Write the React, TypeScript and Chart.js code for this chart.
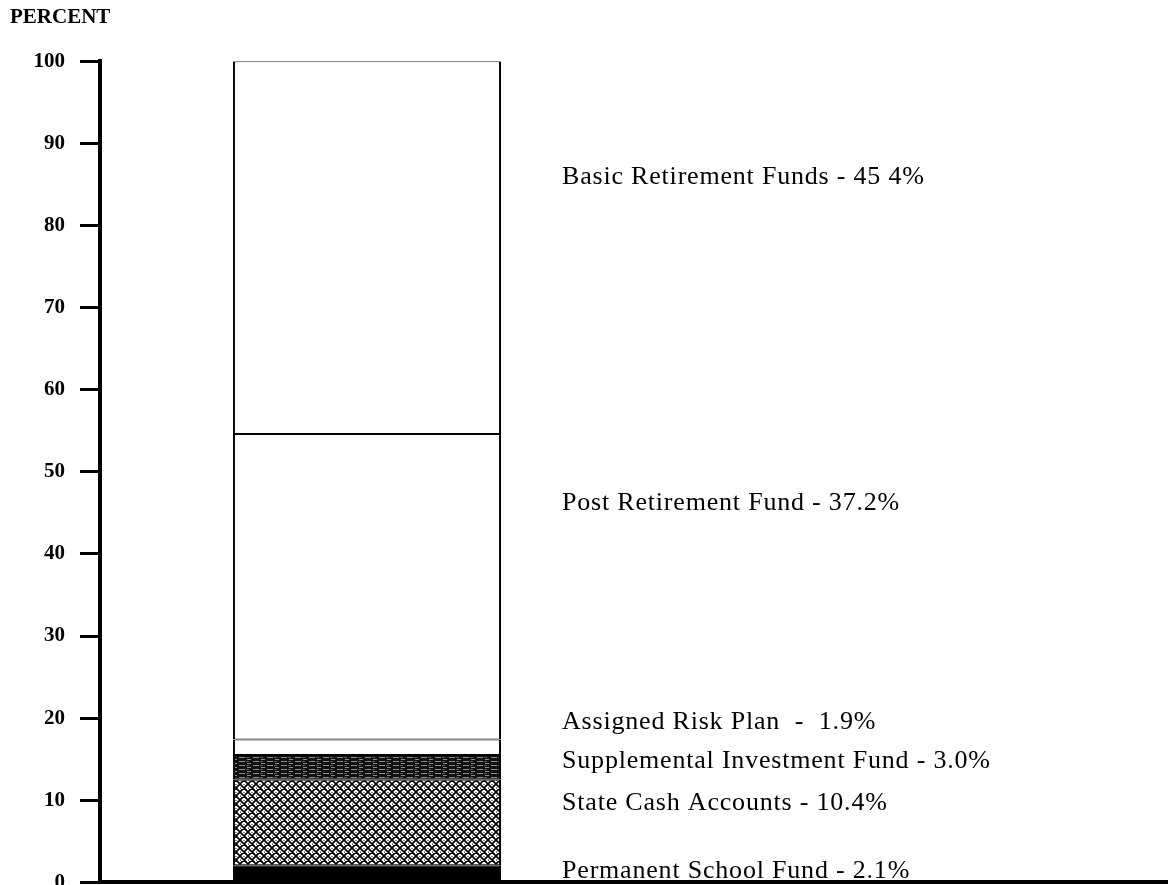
import React, { useEffect, useRef } from "react";
import { Chart, registerables } from "chart.js";

Chart.register(...registerables);

// Data
const categories = ["", ""];
const seriesNames = [
  "Permanent School Fund",
  "State Cash Accounts",
  "Supplemental Investment Fund",
  "Assigned Risk Plan",
  "Post Retirement Fund",
  "Basic Retirement Funds",
];
const seriesValues = [2.1, 10.4, 3.0, 1.9, 37.2, 45.4];
const seriesLabels = [
  "Permanent School Fund - 2.1%",
  "State Cash Accounts - 10.4%",
  "Supplemental Investment Fund - 3.0%",
  "Assigned Risk Plan  -  1.9%",
  "Post Retirement Fund - 37.2%",
  "Basic Retirement Funds - 45 4%",
];
const yTicks = [0, 10, 20, 30, 40, 50, 60, 70, 80, 90, 100];
const axisTitle = "PERCENT";

// Layout of the annotation texts (y in data units)
const labelAnchorY = [1.4, 9.7, 14.8, 19.5, 46.2, 85.9];

function makeCrossHatch(): CanvasPattern | string {
  const c = document.createElement("canvas");
  c.width = 8;
  c.height = 8;
  const g = c.getContext("2d");
  if (!g) return "#888";
  g.fillStyle = "#fff";
  g.fillRect(0, 0, 8, 8);
  g.strokeStyle = "#000";
  g.lineWidth = 1.7;
  g.beginPath();
  for (const o of [-8, 0, 8]) {
    g.moveTo(o, 0);
    g.lineTo(o + 8, 8);
    g.moveTo(o + 8, 0);
    g.lineTo(o, 8);
  }
  g.stroke();
  g.fillStyle = "#000";
  g.fillRect(3.5, 0, 1, 1);
  g.fillRect(0, 3.5, 1, 1);
  const p = g.createPattern(c, "repeat");
  return p || "#888";
}

function makeStreaks(): CanvasPattern | string {
  const c = document.createElement("canvas");
  c.width = 14;
  c.height = 4;
  const g = c.getContext("2d");
  if (!g) return "#222";
  g.fillStyle = "#121212";
  g.fillRect(0, 0, 14, 4);
  g.fillStyle = "#8a8a8a";
  g.fillRect(1, 1, 6, 1);
  g.fillRect(9, 3, 4, 1);
  g.fillStyle = "#555";
  g.fillRect(8, 1, 3, 1);
  const p = g.createPattern(c, "repeat");
  return p || "#222";
}

const labelPlugin = {
  id: "segmentLabels",
  afterDraw(chart: any) {
    const ctx = chart.ctx;
    const yScale = chart.scales.y;
    const meta = chart.getDatasetMeta(0);
    const bar = meta.data[0];
    if (!bar) return;
    const right = bar.x + bar.width / 2;
    ctx.save();
    ctx.fillStyle = "#000";
    ctx.font = "26px 'Liberation Serif', serif";
    ctx.textAlign = "left";
    ctx.textBaseline = "middle";
    try {
      (ctx as any).letterSpacing = "0.8px";
    } catch (e) {}
    seriesLabels.forEach((t, i) => {
      const y = yScale.getPixelForValue(labelAnchorY[i]);
      ctx.fillText(t, right + 61, y);
    });
    ctx.restore();
  },
};

export default function App() {
  const ref = useRef<HTMLCanvasElement | null>(null);

  useEffect(() => {
    if (!ref.current) return;
    const fills: any[] = [
      "#000",
      makeCrossHatch(),
      makeStreaks(),
      "#fff",
      "#fff",
      "#fff",
    ];
    const chart = new Chart(ref.current, {
      type: "bar",
      data: {
        labels: categories,
        datasets: seriesNames.map((name, i) => ({
          label: name,
          data: [seriesValues[i], null],
          backgroundColor: fills[i],
          borderColor: "#000",
          borderWidth: { top: 1, bottom: 1, left: 2, right: 2 },
          borderSkipped: false,
          barPercentage: 0.502,
          categoryPercentage: 1,
        })),
      },
      options: {
        responsive: false,
        animation: false,
        layout: { padding: { left: 10, right: -6, top: 0, bottom: 18 } },
        plugins: {
          legend: { display: false },
          tooltip: { enabled: false },
          title: {
            display: true,
            text: axisTitle,
            align: "start",
            color: "#000",
            font: { family: "'Liberation Serif', serif", size: 21, weight: "bold" },
            padding: { top: 5, bottom: 31 },
          },
        },
        scales: {
          x: {
            stacked: true,
            grid: { display: false },
            ticks: { display: false },
            border: { display: true, width: 4, color: "#000" },
            afterFit(scale: any) {
              scale.height = 0;
            },
          },
          y: {
            stacked: true,
            min: 0,
            max: 100,
            afterBuildTicks(scale: any) {
              scale.ticks = yTicks.map((v) => ({ value: v }));
            },
            ticks: {
              color: "#000",
              padding: 15,
              font: { family: "'Liberation Serif', serif", size: 21, weight: "bold" },
            },
            grid: {
              drawOnChartArea: false,
              drawTicks: true,
              tickLength: 20,
              tickWidth: 3,
              tickColor: "#000",
            },
            border: { display: true, width: 4, color: "#000" },
            afterFit(scale: any) {
              scale.width = 90;
            },
          },
        },
      },
      plugins: [labelPlugin],
    });
    return () => chart.destroy();
  }, []);

  return (
    <div
      style={{
        position: "fixed",
        left: 0,
        top: 0,
        width: 1168,
        height: 885,
        overflow: "hidden",
        background: "#fff",
      }}
    >
      <canvas ref={ref} width={1168} height={910} style={{ display: "block" }} />
    </div>
  );
}
